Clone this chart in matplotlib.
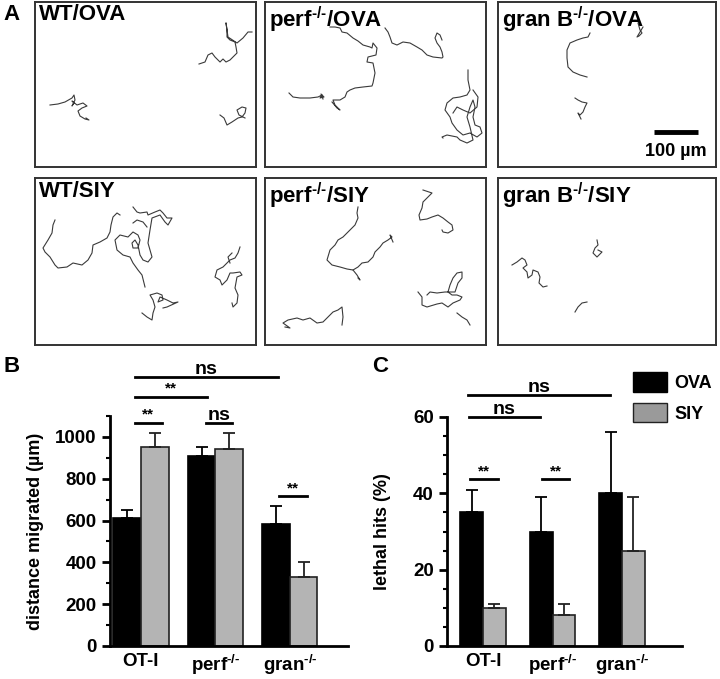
import numpy as np
import matplotlib
matplotlib.use("Agg")
import matplotlib.pyplot as plt
from matplotlib.patches import Patch

plt.rcParams["font.family"] = ["Liberation Sans", "DejaVu Sans"]
plt.rcParams["font.weight"] = "bold"
plt.rcParams["mathtext.fontset"] = "custom"
plt.rcParams["mathtext.rm"] = "Liberation Sans:bold"
plt.rcParams["mathtext.bf"] = "Liberation Sans:bold"
plt.rcParams["mathtext.it"] = "Liberation Sans:bold"

W, H = 720, 679
SUP = r"$^{\mathrm{\u2010/\u2010}}$".replace(r"\u2010", "\u2010")

# ---- panel A: cell tracks, positions in image pixels ------------------------
wt_ova = [
    [(50, 105), (58, 104), (65, 102), (72, 98), (74, 95), (75, 100), (72, 106),
     (74, 103), (72, 101), (77, 105), (83, 103), (87, 106), (82, 108), (78, 111),
     (80, 116), (85, 119), (89, 120), (86, 118)],
    [(199, 64), (205, 62), (208, 55), (212, 53), (215, 57), (220, 62), (223, 59),
     (226, 62), (230, 60), (233, 57), (237, 53), (236, 47), (235, 42), (230, 40),
     (227, 37), (227, 30), (226, 23), (227, 30), (228, 37), (237, 43), (243, 38),
     (248, 32), (252, 32)],
    [(220, 115), (224, 118), (227, 125), (232, 122), (238, 118), (242, 117),
     (245, 113), (246, 108), (242, 107), (237, 110), (239, 115), (245, 118)],
]
perf_ova = [
    [(289, 93), (293, 97), (300, 98), (310, 98), (318, 97), (322, 95), (320, 98),
     (324, 97), (321, 94), (323, 99)],
    [(332, 102), (337, 108), (340, 110), (335, 105), (333, 100), (340, 100),
     (345, 97), (347, 92), (350, 90), (355, 88), (363, 87), (372, 86), (373, 83),
     (375, 73), (373, 63), (367, 62), (368, 57), (376, 55), (377, 48), (373, 43),
     (372, 48), (370, 47), (363, 45), (358, 41), (353, 38), (347, 33), (342, 32),
     (340, 28), (335, 27), (330, 27)],
    [(385, 28), (388, 32), (390, 37), (392, 43), (397, 45), (403, 42), (410, 43),
     (417, 47), (422, 50), (427, 55), (433, 57), (442, 58), (443, 57), (442, 52),
     (440, 47), (437, 43), (435, 38), (437, 33), (440, 35), (442, 40)],
    [(468, 70), (468, 80), (470, 90), (467, 95), (460, 97), (453, 98), (447, 103),
     (445, 110), (450, 117), (452, 123), (457, 130), (463, 135), (470, 133),
     (477, 137), (482, 133), (480, 127), (475, 125), (473, 117), (475, 107),
     (473, 100), (470, 107), (467, 117), (470, 127), (473, 140), (467, 143),
     (460, 140), (457, 137), (447, 135), (442, 137), (443, 138)],
    [(473, 90), (478, 97), (477, 107), (470, 113), (463, 110), (457, 107), (453, 113)],
]
granb_ova = [
    [(590, 33), (588, 37), (583, 38), (577, 40), (570, 43), (567, 50), (567, 58),
     (568, 67), (573, 72), (580, 75), (587, 77)],
    [(575, 98), (578, 100), (582, 102), (587, 103), (585, 107), (583, 112),
     (580, 115), (578, 113), (581, 119)],
    [(638, 23), (640, 30), (642, 33), (639, 36), (637, 37), (643, 27)],
]
wt_siy = [
    [(55, 220), (53, 225), (52, 233), (48, 240), (43, 248), (45, 252), (50, 257),
     (55, 265), (58, 268), (67, 267), (73, 263), (82, 265), (88, 260), (92, 253),
     (93, 245), (100, 242), (107, 238), (110, 232), (111, 225), (113, 217),
     (117, 213), (120, 215)],
    [(133, 207), (137, 212), (140, 213), (147, 212), (148, 215), (155, 212),
     (160, 210), (163, 213), (167, 218), (172, 218), (168, 225), (165, 222),
     (160, 215), (152, 218), (150, 230), (148, 243), (152, 257), (148, 262),
     (143, 260), (140, 255), (138, 245), (135, 240), (132, 243), (133, 248),
     (138, 248), (140, 240), (138, 235), (133, 232), (128, 237), (120, 235),
     (115, 240), (117, 250), (123, 255), (130, 257), (133, 263), (138, 270),
     (142, 275), (145, 287)],
    [(147, 227), (143, 222), (137, 220), (133, 223)],
    [(142, 313), (147, 317), (152, 320), (153, 313), (155, 307), (153, 300),
     (150, 295), (157, 293), (162, 295), (163, 300), (158, 302), (160, 297),
     (167, 300), (173, 303), (178, 302), (167, 307), (163, 308)],
    [(240, 247), (238, 253), (235, 258), (230, 260), (227, 263), (223, 267),
     (217, 270), (215, 277), (220, 280), (222, 285), (227, 280), (230, 273),
     (233, 273), (240, 272), (242, 275), (237, 277), (235, 288), (238, 295),
     (237, 303), (233, 307), (232, 303)],
    [(230, 263), (228, 257), (232, 253)],
]
perf_siy = [
    [(358, 207), (357, 213), (358, 218), (355, 225), (350, 230), (343, 237),
     (338, 240), (335, 245), (330, 250), (327, 260), (332, 265), (340, 267),
     (347, 269), (353, 270), (358, 267), (362, 263), (368, 262), (373, 257),
     (375, 252), (380, 247), (383, 243), (388, 240), (392, 237), (390, 235),
     (393, 242)],
    [(353, 270), (357, 275), (360, 280), (358, 278)],
    [(423, 190), (432, 193), (428, 197), (423, 202), (422, 208), (419, 215),
     (420, 220), (427, 219), (432, 217), (438, 215), (443, 218), (448, 222),
     (452, 225), (453, 230), (448, 233), (443, 232), (442, 230)],
    [(418, 292), (422, 297), (422, 305), (427, 307), (437, 304), (442, 303),
     (448, 307), (453, 303), (460, 300), (462, 297), (457, 295), (452, 295),
     (448, 292), (450, 285), (453, 278), (457, 273), (462, 272), (462, 278),
     (458, 283), (455, 292), (445, 292), (437, 293), (430, 292), (427, 295)],
    [(457, 313), (462, 317), (467, 320), (470, 325)],
    [(285, 327), (290, 328), (283, 323), (288, 320), (297, 318), (303, 320),
     (310, 318), (317, 323), (323, 322), (328, 317), (333, 312), (338, 310),
     (342, 307), (343, 317), (342, 325)],
]
granb_siy = [
    [(512, 265), (517, 262), (522, 258), (525, 260), (527, 265), (523, 268),
     (527, 272), (528, 278), (532, 275), (533, 270), (538, 272), (540, 277),
     (539, 283), (543, 287), (547, 286)],
    [(597, 240), (598, 245), (595, 248), (593, 253), (597, 257), (602, 252),
     (598, 250)],
    [(575, 312), (578, 307), (582, 303), (587, 302)],
]

track_titles = ["WT/OVA", "perf" + SUP + "/OVA", "gran B" + SUP + "/OVA",
                "WT/SIY", "perf" + SUP + "/SIY", "gran B" + SUP + "/SIY"]
track_sets = [wt_ova, perf_ova, granb_ova, wt_siy, perf_siy, granb_siy]
box_x = [(35, 256), (265, 486), (498, 716)]
box_y = [(2, 167), (178, 345)]

scale_um = 100
px_per_um = 0.44

# ---- panel B / C: bar data ---------------------------------------------------
groups = ["OT-I", "perf" + SUP, "gran" + SUP]
dist_ova = [610, 910, 585]
dist_ova_err = [40, 40, 85]
dist_siy = [950, 940, 330]
dist_siy_err = [70, 80, 70]

hits_ova = [35, 30, 40]
hits_ova_err = [6, 9, 16]
hits_siy = [10, 8, 25]
hits_siy_err = [1, 3, 14]

# (x0, x1, y, label) in data units
sig_b = [(-0.08, 0.28, 1067, "**"), (0.87, 1.22, 1067, "ns"),
         (-0.08, 0.89, 1192, "**"), (-0.08, 1.84, 1288, "ns"),
         (1.85, 2.23, 716, "**")]
sig_c = [(-0.19, 0.22, 43.7, "**"), (0.85, 1.24, 43.7, "**"),
         (-0.20, 0.82, 60.0, "ns"), (-0.22, 1.83, 65.7, "ns")]

GRAY = "#b4b4b4"


def px_axes(fig, x0, y0, x1, y1):
    return fig.add_axes([x0 / W, 1 - y1 / H, (x1 - x0) / W, (y1 - y0) / H])


fig = plt.figure(figsize=(W / 100, H / 100), dpi=100)

for i, (title, tracks) in enumerate(zip(track_titles, track_sets)):
    r, c = divmod(i, 3)
    x0, x1 = box_x[c]
    y0, y1 = box_y[r]
    ax = px_axes(fig, x0, y0, x1, y1)
    for tr in tracks:
        xs, ys = zip(*tr)
        ax.plot(xs, ys, color="#3a3a3a", lw=0.8)
    ax.set_xlim(x0, x1)
    ax.set_ylim(y1, y0)
    ax.set_xticks([])
    ax.set_yticks([])
    for s in ax.spines.values():
        s.set_linewidth(1.4)
        s.set_color("#333333")
    ax.text(0.02, 0.985, title, transform=ax.transAxes, ha="left", va="top",
            fontsize=16, fontweight="bold")
    if i == 2:
        bx0 = 654
        ax.plot([bx0, bx0 + scale_um * px_per_um], [132, 132], color="black",
                lw=3.5, solid_capstyle="butt")
        ax.text(bx0 + scale_um * px_per_um / 2, 152, "100 µm", ha="center",
                va="center", fontsize=13, fontweight="bold")

fig.text(12 / W, 1 - 14 / H, "A", fontsize=16, fontweight="bold", ha="center", va="center")
fig.text(12 / W, 1 - 366 / H, "B", fontsize=16, fontweight="bold", ha="center", va="center")
fig.text(380 / W, 1 - 366 / H, "C", fontsize=16, fontweight="bold", ha="center", va="center")


def bar_panel(ax, ova, ova_err, siy, siy_err, width, sigs, ymax, major, minor,
              ylabel, star_off, ns_off, lpad):
    x = np.arange(len(groups))
    ax.bar(x - width / 2, ova, width, color="black", edgecolor="black", lw=1.2)
    ax.bar(x + width / 2, siy, width, color=GRAY, edgecolor="#222222", lw=1.2)
    ax.errorbar(x - width / 2, ova, yerr=[np.zeros(3), ova_err], fmt="none",
                ecolor="black", elinewidth=1.3, capsize=4.5, capthick=1.3)
    ax.errorbar(x + width / 2, siy, yerr=[np.zeros(3), siy_err], fmt="none",
                ecolor="#222222", elinewidth=1.3, capsize=4.5, capthick=1.3)
    ax.set_ylim(0, ymax)
    ax.set_yticks(np.arange(0, ymax + 1, major))
    ax.set_yticks(np.arange(0, ymax + 1, minor), minor=True)
    ax.set_xticks(x)
    ax.set_xticklabels(groups)
    ax.set_ylabel(ylabel, fontsize=13, fontweight="bold", labelpad=lpad)
    for s in ["top", "right"]:
        ax.spines[s].set_visible(False)
    for s in ["left", "bottom"]:
        ax.spines[s].set_linewidth(2)
    ax.tick_params(axis="y", which="major", length=6, width=2, labelsize=13.5)
    ax.tick_params(axis="y", which="minor", length=3, width=1.5)
    ax.tick_params(axis="x", length=0, labelsize=13.5, pad=5)
    for xa, xb, yy, lab in sigs:
        ax.plot([xa, xb], [yy, yy], color="black", lw=2, clip_on=False)
        off = star_off if lab == "**" else ns_off
        ax.text((xa + xb) / 2, yy + off, lab, ha="center", va="bottom",
                fontsize=11 if lab == "**" else 14, fontweight="bold")


axb = px_axes(fig, 110, 416, 348, 646)
axb.set_xlim(-0.416, 2.78)
bar_panel(axb, dist_ova, dist_ova_err, dist_siy, dist_siy_err, 0.37, sig_b,
          1100, 200, 100, "distance migrated (µm)", 5, -5, 8)

axc = px_axes(fig, 447, 417, 682, 646)
axc.set_xlim(-0.518, 2.863)
bar_panel(axc, hits_ova, hits_ova_err, hits_siy, hits_siy_err, 0.33, sig_c,
          60, 20, 5, "lethal hits (%)", 0.3, -0.3, 16)

handles = [Patch(facecolor="black", edgecolor="black"),
           Patch(facecolor="#9a9a9a", edgecolor="#222222")]
fig.legend(handles, ["OVA", "SIY"], loc="upper left",
           bbox_to_anchor=(633 / W, 1 - 372 / H), frameon=False, fontsize=13,
           handlelength=1.9, handleheight=1.3, handletextpad=0.4,
           labelspacing=0.6, borderpad=0, borderaxespad=0)

fig.savefig("out.png", dpi=100)
